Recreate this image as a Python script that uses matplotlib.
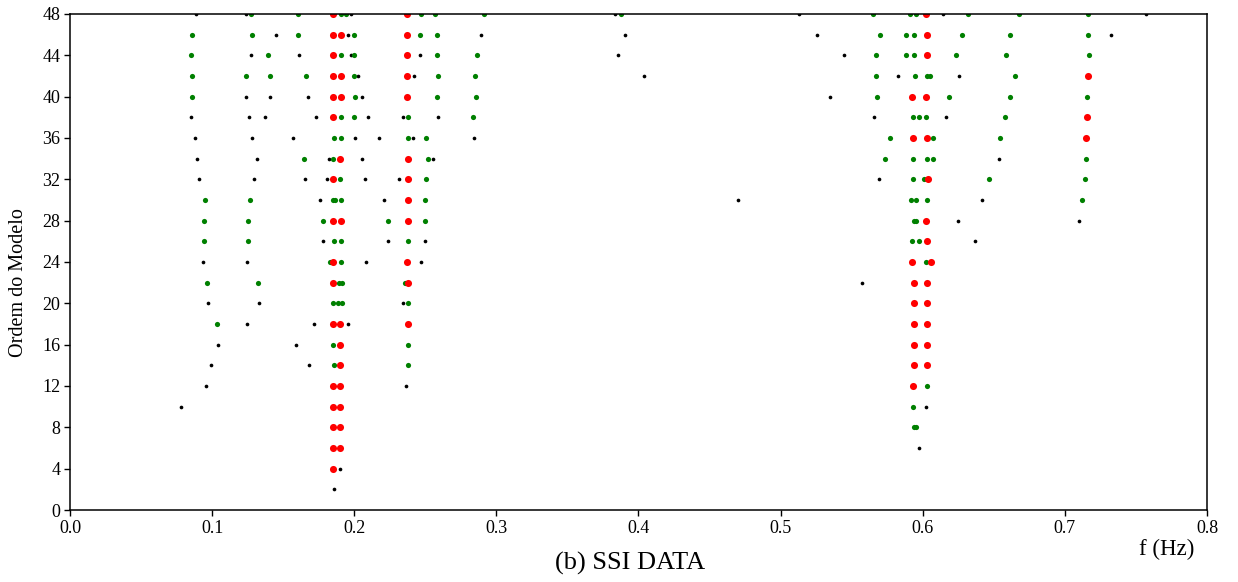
import matplotlib
matplotlib.use("Agg")
import matplotlib.pyplot as plt

plt.rcParams['font.family'] = ['Liberation Serif', 'DejaVu Serif']

# ---- data: (model order, frequency) for each stability class ----
black_n = [48, 38, 36, 34, 32, 24, 20, 16, 14, 12, 10,
           48, 44, 40, 38, 36, 34, 32, 24, 20, 18,
           48, 46, 46, 46, 44, 44, 44, 42, 42, 40, 40, 40,
           38, 38, 38, 38, 38, 36, 36, 36, 36, 36, 34, 34, 34,
           32, 32, 32, 32, 30, 30, 26, 26, 26, 24, 24, 20, 18, 18,
           16, 14, 12, 4, 2,
           48, 46, 44, 42, 30,
           48, 48, 46, 44, 42, 42, 40, 38, 38, 32, 28, 26, 22, 10, 6,
           48, 46, 34, 30, 28]
black_f = [0.0884, 0.0853, 0.0877, 0.0896, 0.0910, 0.0934, 0.0971, 0.1039, 0.0994, 0.0959, 0.0783,
           0.1236, 0.1276, 0.1240, 0.1257, 0.1283, 0.1318, 0.1293, 0.1243, 0.1330, 0.1248,
           0.1979, 0.1447, 0.1956, 0.2894, 0.1611, 0.1975, 0.2461, 0.2029, 0.2418, 0.1409, 0.1677, 0.2052,
           0.1372, 0.1731, 0.2099, 0.2343, 0.2589, 0.1571, 0.2007, 0.2172, 0.2416, 0.2845, 0.1824, 0.2052, 0.2552,
           0.1651, 0.1808, 0.2076, 0.2317, 0.1759, 0.2211, 0.1778, 0.2237, 0.2500, 0.2085, 0.2468, 0.2343, 0.1715, 0.1958,
           0.1588, 0.1680, 0.2366, 0.1900, 0.1855,
           0.3835, 0.3907, 0.3854, 0.4037, 0.4702,
           0.5129, 0.6145, 0.5254, 0.5448, 0.5826, 0.6257, 0.5350, 0.5659, 0.6166, 0.5692, 0.6246, 0.6370, 0.5575, 0.6025, 0.5976,
           0.7569, 0.7322, 0.6537, 0.6417, 0.7102]

green_n = [46, 44, 42, 40, 30, 28, 26, 22, 18,
           48, 46, 42, 30, 28, 26, 22,
           48, 48, 48, 48, 48, 48, 46, 46, 46, 46, 44, 44, 44, 44, 44,
           42, 42, 42, 42, 42, 40, 40, 40, 38, 38, 38, 38, 36, 36, 36, 36,
           34, 34, 34, 32, 32, 30, 30, 30, 30, 28, 28, 28, 26, 26, 26,
           24, 24, 22, 22, 22, 20, 20, 20, 20, 16, 16, 14, 14,
           48,
           48, 48, 48, 48, 46, 46, 46, 46, 44, 44, 44, 44, 42, 42, 42, 42,
           40, 40, 38, 38, 38, 36, 36, 34, 34, 34, 34, 32, 32, 30, 30, 30,
           28, 28, 26, 26, 24, 12, 10, 8, 8,
           48, 48, 46, 46, 44, 44, 42, 40, 40, 38, 36, 34, 32, 32, 30]
green_f = [0.0856, 0.0853, 0.0856, 0.0856, 0.0948, 0.0943, 0.0943, 0.0964, 0.1034,
           0.1271, 0.1281, 0.1236, 0.1264, 0.1255, 0.1255, 0.1323,
           0.1606, 0.1905, 0.1942, 0.2468, 0.2570, 0.2915, 0.1602, 0.2000, 0.2461, 0.2580,
           0.1395, 0.1905, 0.2000, 0.2580, 0.2864,
           0.1405, 0.1663, 0.2000, 0.2589, 0.2847, 0.2007, 0.2582, 0.2855, 0.1905, 0.1996, 0.2376, 0.2833,
           0.1855, 0.1905, 0.2376, 0.2507,
           0.1644, 0.1853, 0.2517, 0.1900, 0.2503, 0.1853, 0.1867, 0.1907, 0.2500, 0.1780, 0.2237, 0.2498,
           0.1855, 0.1907, 0.2376,
           0.1829, 0.1905, 0.1895, 0.1914, 0.2355, 0.1853, 0.1888, 0.1916, 0.2378, 0.1853, 0.2380, 0.1855, 0.2380,
           0.3879,
           0.5648, 0.5908, 0.5955, 0.6321, 0.5701, 0.5880, 0.5941, 0.6278, 0.5671, 0.5880, 0.5941, 0.6234,
           0.5673, 0.5948, 0.6032, 0.6051,
           0.5676, 0.6187, 0.5931, 0.5976, 0.6023, 0.5770, 0.6074, 0.5734, 0.5931, 0.6030, 0.6072, 0.5931, 0.6009,
           0.5915, 0.5955, 0.6028,
           0.5941, 0.5955, 0.5926, 0.5976, 0.6023, 0.6028, 0.5934, 0.5941, 0.5955,
           0.6679, 0.7163, 0.6614, 0.7163, 0.6588, 0.7170, 0.6651, 0.6616, 0.7158, 0.6581, 0.6541, 0.7149,
           0.6464, 0.7139, 0.7123]

red_n = [48, 46, 44, 42, 40, 38, 32, 28, 24, 22, 18, 12, 10, 8, 6, 4,
         46, 42, 40, 34, 28, 18, 16, 14, 12, 10, 8, 6,
         48, 46, 44, 42, 40, 34, 32, 30, 28, 24, 22, 18,
         40, 36, 24, 22, 20, 18, 16, 14, 12,
         48, 46, 44, 40, 36, 32, 28, 26, 24, 22, 20, 18, 16, 14,
         42, 38, 36]
red_f = [0.1853, 0.1853, 0.1853, 0.1853, 0.1853, 0.1853, 0.1853, 0.1853, 0.1849, 0.1853, 0.1853, 0.1853,
         0.1853, 0.1853, 0.1853, 0.1853,
         0.1905, 0.1905, 0.1905, 0.1900, 0.1907, 0.1902, 0.1902, 0.1902, 0.1902, 0.1902, 0.1902, 0.1902,
         0.2373, 0.2373, 0.2373, 0.2373, 0.2373, 0.2376, 0.2376, 0.2376, 0.2376, 0.2373, 0.2378, 0.2378,
         0.5922, 0.5934, 0.5926, 0.5936, 0.5936, 0.5936, 0.5936, 0.5936, 0.5934,
         0.6025, 0.6030, 0.6030, 0.6023, 0.6030, 0.6035, 0.6023, 0.6030, 0.6058, 0.6032, 0.6032, 0.6032,
         0.6032, 0.6032,
         0.7163, 0.7158, 0.7151]

x_ticks = [0.0, 0.1, 0.2, 0.3, 0.4, 0.5, 0.6, 0.7, 0.8]
y_ticks = list(range(0, 49, 4))

fig = plt.figure(figsize=(12.38, 5.82), dpi=100)
ax = fig.add_axes([0.0565, 0.1237, 0.9185, 0.8523])

ax.scatter(black_f, black_n, s=7, c='black', linewidths=0, zorder=1)
ax.scatter(green_f, green_n, s=14, c='green', linewidths=0, zorder=1.1)
ax.scatter(red_f, red_n, s=26, c='red', linewidths=0, zorder=1.2)

ax.set_xlim(0, 0.8)
ax.set_ylim(0, 48)
ax.set_xticks(x_ticks)
ax.set_xticklabels([f"{v:.1f}" for v in x_ticks])
ax.set_yticks(y_ticks)
ax.tick_params(labelsize=13, direction='out', length=4, width=1, pad=3)
for sp in ax.spines.values():
    sp.set_linewidth(1.1)

fig.text(0.0153, 0.514, "Ordem do Modelo", rotation=90, ha='center', va='center', fontsize=14.5)
fig.text(0.9426, 0.0567, "f (Hz)", ha='center', va='center', fontsize=16.5)
fig.text(0.509, 0.0326, "(b) SSI DATA", ha='center', va='center', fontsize=19)

fig.savefig("out.png", dpi=100)
